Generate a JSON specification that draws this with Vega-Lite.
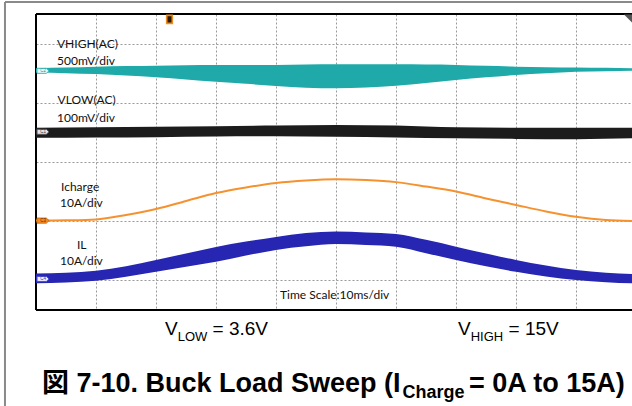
{
  "$schema": "https://vega.github.io/schema/vega-lite/v6.json",
  "width": 596,
  "height": 296,
  "autosize": {"type": "none"},
  "padding": {"left": 36, "top": 14, "right": 0, "bottom": 96},
  "background": "white",
  "config": {
    "view": {"stroke": null},
    "axis": {"grid": true, "gridColor": "#9a9a9a", "gridDash": [2, 2], "gridWidth": 1, "labels": false, "ticks": false, "domain": false, "title": null}
  },
  "datasets": {
    "plotBorder": [
      {"t": 0, "v": 10, "t2": 99.333, "v2": 10},
      {"t": 0, "v": 0, "t2": 99.333, "v2": 0},
      {"t": 0, "v": 0, "t2": 0, "v2": 10}
    ],
    "pageFrame": [
      {"t": -5.17, "v": 10.405, "t2": 99.333, "v2": 10.405},
      {"t": -5.17, "v": 10.405, "t2": -5.17, "v2": -3.3}
    ],
    "vhigh": [
      {"t": 0, "v": 8.17, "v2": 8.02},
      {"t": 5, "v": 8.19, "v2": 8.0},
      {"t": 10, "v": 8.22, "v2": 7.97},
      {"t": 15, "v": 8.24, "v2": 7.92},
      {"t": 20, "v": 8.25, "v2": 7.86},
      {"t": 25, "v": 8.27, "v2": 7.79},
      {"t": 30, "v": 8.28, "v2": 7.71},
      {"t": 35, "v": 8.28, "v2": 7.64},
      {"t": 40, "v": 8.28, "v2": 7.57},
      {"t": 45, "v": 8.29, "v2": 7.51},
      {"t": 50, "v": 8.3, "v2": 7.49},
      {"t": 55, "v": 8.3, "v2": 7.52},
      {"t": 60, "v": 8.3, "v2": 7.58},
      {"t": 65, "v": 8.29, "v2": 7.67},
      {"t": 70, "v": 8.28, "v2": 7.77},
      {"t": 75, "v": 8.25, "v2": 7.86},
      {"t": 80, "v": 8.22, "v2": 7.94},
      {"t": 85, "v": 8.2, "v2": 8.0},
      {"t": 90, "v": 8.19, "v2": 8.05},
      {"t": 95, "v": 8.18, "v2": 8.07},
      {"t": 99.333, "v": 8.17, "v2": 8.08}
    ],
    "vlow": [
      {"t": 0, "v": 6.16, "v2": 5.82},
      {"t": 10, "v": 6.17, "v2": 5.83},
      {"t": 20, "v": 6.19, "v2": 5.84},
      {"t": 30, "v": 6.21, "v2": 5.86},
      {"t": 40, "v": 6.23, "v2": 5.87},
      {"t": 50, "v": 6.25, "v2": 5.85},
      {"t": 60, "v": 6.23, "v2": 5.83},
      {"t": 70, "v": 6.17, "v2": 5.8},
      {"t": 80, "v": 6.16, "v2": 5.78},
      {"t": 90, "v": 6.16, "v2": 5.77},
      {"t": 99.333, "v": 6.16, "v2": 5.8}
    ],
    "icharge": [
      {"t": 0, "v": 3.02},
      {"t": 5, "v": 3.03},
      {"t": 10, "v": 3.06},
      {"t": 15, "v": 3.21},
      {"t": 20, "v": 3.41},
      {"t": 25, "v": 3.68},
      {"t": 30, "v": 3.95},
      {"t": 35, "v": 4.14},
      {"t": 40, "v": 4.29},
      {"t": 45, "v": 4.375},
      {"t": 50, "v": 4.415},
      {"t": 55, "v": 4.39},
      {"t": 60, "v": 4.32},
      {"t": 65, "v": 4.17},
      {"t": 70, "v": 4.0},
      {"t": 75, "v": 3.77},
      {"t": 80, "v": 3.55},
      {"t": 85, "v": 3.33},
      {"t": 90, "v": 3.15},
      {"t": 95, "v": 3.04},
      {"t": 99.333, "v": 3.01}
    ],
    "il": [
      {"t": 0, "v": 1.23, "v2": 0.9},
      {"t": 5, "v": 1.26, "v2": 0.93},
      {"t": 10, "v": 1.33, "v2": 0.99},
      {"t": 15, "v": 1.48, "v2": 1.12},
      {"t": 20, "v": 1.69, "v2": 1.29},
      {"t": 25, "v": 1.91, "v2": 1.46},
      {"t": 30, "v": 2.13, "v2": 1.63},
      {"t": 35, "v": 2.31, "v2": 1.84},
      {"t": 40, "v": 2.47, "v2": 2.03},
      {"t": 45, "v": 2.6, "v2": 2.15},
      {"t": 50, "v": 2.65, "v2": 2.23},
      {"t": 55, "v": 2.62, "v2": 2.2},
      {"t": 60, "v": 2.57, "v2": 2.14},
      {"t": 65, "v": 2.37, "v2": 1.92},
      {"t": 70, "v": 2.14, "v2": 1.69},
      {"t": 75, "v": 1.91, "v2": 1.48},
      {"t": 80, "v": 1.69, "v2": 1.29},
      {"t": 85, "v": 1.5, "v2": 1.13},
      {"t": 90, "v": 1.35, "v2": 1.01},
      {"t": 95, "v": 1.26, "v2": 0.94},
      {"t": 99.333, "v": 1.22, "v2": 0.9}
    ],
    "tags": [
      {"t": 1.17, "v": 8.08, "label": "C2", "ch": "C2"},
      {"t": 1.17, "v": 6.02, "label": "C1", "ch": "C1"},
      {"t": 1.17, "v": 3.02, "label": "C3", "ch": "C3"},
      {"t": 1.17, "v": 1.05, "label": "C4", "ch": "C4"}
    ],
    "trigger": [{"t": 22.25, "v": 9.82}],
    "corner": [{"t": 98.67, "v": 9.85}],
    "plotLabels": [
      {"t": 3.5, "v": 8.986, "label": "VHIGH(AC)"},
      {"t": 3.5, "v": 8.412, "label": "500mV/div"},
      {"t": 3.6, "v": 7.078, "label": "VLOW(AC)"},
      {"t": 3.5, "v": 6.503, "label": "100mV/div"},
      {"t": 4.17, "v": 4.166, "label": "Icharge"},
      {"t": 4.0, "v": 3.615, "label": "10A/div"},
      {"t": 6.83, "v": 2.196, "label": "IL"},
      {"t": 4.0, "v": 1.655, "label": "10A/div"},
      {"t": 40.67, "v": 0.507, "label": "Time Scale:10ms/div"}
    ],
    "voltMain": [
      {"t": 21.5, "v": -0.861, "label": "V"},
      {"t": 29.42, "v": -0.861, "label": "= 3.6V"},
      {"t": 70.33, "v": -0.861, "label": "V"},
      {"t": 78.75, "v": -0.861, "label": "= 15V"}
    ],
    "voltSub": [
      {"t": 23.62, "v": -1.047, "label": "LOW"},
      {"t": 72.45, "v": -1.047, "label": "HIGH"}
    ],
    "titleMain": [
      {"t": 1.0, "v": -2.77, "label": "図 7-10. Buck Load Sweep (I"},
      {"t": 72.17, "v": -2.77, "label": "= 0A to 15A)"}
    ],
    "titleSub": [
      {"t": 61.1, "v": -2.97, "label": "Charge"}
    ]
  },
  "layer": [
    {
      "data": {"name": "plotBorder"},
      "mark": {"type": "rule", "color": "#000000", "strokeWidth": 2, "clip": false},
      "encoding": {
        "x": {"field": "t", "type": "quantitative", "scale": {"domain": [0, 99.333], "nice": false, "zero": false}, "axis": {"values": [10, 20, 30, 40, 50, 60, 70, 80, 90]}},
        "y": {"field": "v", "type": "quantitative", "scale": {"domain": [0, 10], "nice": false, "zero": false}, "axis": {"values": [1, 2, 3, 4, 5, 6, 7, 8, 9]}},
        "x2": {"field": "t2"},
        "y2": {"field": "v2"}
      }
    },
    {
      "data": {"name": "pageFrame"},
      "mark": {"type": "rule", "color": "#8a8a8a", "strokeWidth": 2, "clip": false},
      "encoding": {
        "x": {"field": "t", "type": "quantitative"},
        "y": {"field": "v", "type": "quantitative"},
        "x2": {"field": "t2"},
        "y2": {"field": "v2"}
      }
    },
    {
      "data": {"name": "vhigh"},
      "mark": {"type": "area", "color": "#1fa9a8", "interpolate": "monotone", "opacity": 1},
      "encoding": {
        "x": {"field": "t", "type": "quantitative"},
        "y": {"field": "v", "type": "quantitative"},
        "y2": {"field": "v2"}
      }
    },
    {
      "data": {"name": "vlow"},
      "mark": {"type": "area", "color": "#1c1c1c", "interpolate": "monotone"},
      "encoding": {
        "x": {"field": "t", "type": "quantitative"},
        "y": {"field": "v", "type": "quantitative"},
        "y2": {"field": "v2"}
      }
    },
    {
      "data": {"name": "icharge"},
      "mark": {"type": "line", "color": "#f5922f", "strokeWidth": 2, "interpolate": "monotone"},
      "encoding": {
        "x": {"field": "t", "type": "quantitative"},
        "y": {"field": "v", "type": "quantitative"}
      }
    },
    {
      "data": {"name": "il"},
      "mark": {"type": "area", "color": "#2626b2", "interpolate": "monotone"},
      "encoding": {
        "x": {"field": "t", "type": "quantitative"},
        "y": {"field": "v", "type": "quantitative"},
        "y2": {"field": "v2"}
      }
    },
    {
      "data": {"name": "tags"},
      "mark": {"type": "point", "filled": true, "size": 144, "shape": "M-1,-0.42L0.55,-0.42L1,0L0.55,0.42L-1,0.42Z", "strokeWidth": 1, "opacity": 1, "clip": false},
      "encoding": {
        "x": {"field": "t", "type": "quantitative"},
        "y": {"field": "v", "type": "quantitative"},
        "fill": {"field": "ch", "type": "nominal", "scale": {"domain": ["C1", "C2", "C3", "C4"], "range": ["#e4e4ee", "#e8fbfb", "#f28c28", "#eef0ff"]}, "legend": null},
        "stroke": {"field": "ch", "type": "nominal", "scale": {"domain": ["C1", "C2", "C3", "C4"], "range": ["#555555", "#3bbcbc", "#d07010", "#4a4ad0"]}, "legend": null}
      }
    },
    {
      "data": {"name": "tags"},
      "mark": {"type": "text", "fontSize": 4.5, "font": "Liberation Sans", "align": "center", "baseline": "middle", "clip": false},
      "encoding": {
        "x": {"field": "t", "type": "quantitative"},
        "y": {"field": "v", "type": "quantitative"},
        "text": {"field": "label"},
        "color": {"field": "ch", "type": "nominal", "scale": {"domain": ["C1", "C2", "C3", "C4"], "range": ["#333333", "#229999", "#5a2a00", "#3333aa"]}, "legend": null}
      }
    },
    {
      "data": {"name": "trigger"},
      "mark": {"type": "point", "filled": true, "size": 64, "shape": "M-0.7,-1L0.7,-1L0.7,1L-0.7,1Z", "fill": "#2a1a0a", "stroke": "#f08a1c", "strokeWidth": 1.6, "opacity": 1, "clip": false},
      "encoding": {
        "x": {"field": "t", "type": "quantitative"},
        "y": {"field": "v", "type": "quantitative"}
      }
    },
    {
      "data": {"name": "corner"},
      "mark": {"type": "point", "filled": true, "size": 64, "shape": "M-1,-1L1,-1L1,1Z", "fill": "#555555", "opacity": 1, "clip": false},
      "encoding": {
        "x": {"field": "t", "type": "quantitative"},
        "y": {"field": "v", "type": "quantitative"}
      }
    },
    {
      "data": {"name": "plotLabels"},
      "mark": {"type": "text", "font": "Lato", "fontSize": 12, "color": "#111111", "align": "left", "baseline": "middle"},
      "encoding": {
        "x": {"field": "t", "type": "quantitative"},
        "y": {"field": "v", "type": "quantitative"},
        "text": {"field": "label"}
      }
    },
    {
      "data": {"name": "voltMain"},
      "mark": {"type": "text", "font": "Liberation Sans", "fontSize": 19, "color": "#000000", "align": "left", "baseline": "alphabetic", "clip": false},
      "encoding": {
        "x": {"field": "t", "type": "quantitative"},
        "y": {"field": "v", "type": "quantitative"},
        "text": {"field": "label"}
      }
    },
    {
      "data": {"name": "voltSub"},
      "mark": {"type": "text", "font": "Liberation Sans", "fontSize": 13, "color": "#000000", "align": "left", "baseline": "alphabetic", "clip": false},
      "encoding": {
        "x": {"field": "t", "type": "quantitative"},
        "y": {"field": "v", "type": "quantitative"},
        "text": {"field": "label"}
      }
    },
    {
      "data": {"name": "titleMain"},
      "mark": {"type": "text", "font": "Liberation Sans, Noto Sans CJK JP", "fontSize": 27, "fontWeight": "bold", "color": "#000000", "align": "left", "baseline": "alphabetic", "clip": false},
      "encoding": {
        "x": {"field": "t", "type": "quantitative"},
        "y": {"field": "v", "type": "quantitative"},
        "text": {"field": "label"}
      }
    },
    {
      "data": {"name": "titleSub"},
      "mark": {"type": "text", "font": "Liberation Sans", "fontSize": 18, "fontWeight": "bold", "color": "#000000", "align": "left", "baseline": "alphabetic", "clip": false},
      "encoding": {
        "x": {"field": "t", "type": "quantitative"},
        "y": {"field": "v", "type": "quantitative"},
        "text": {"field": "label"}
      }
    }
  ]
}
